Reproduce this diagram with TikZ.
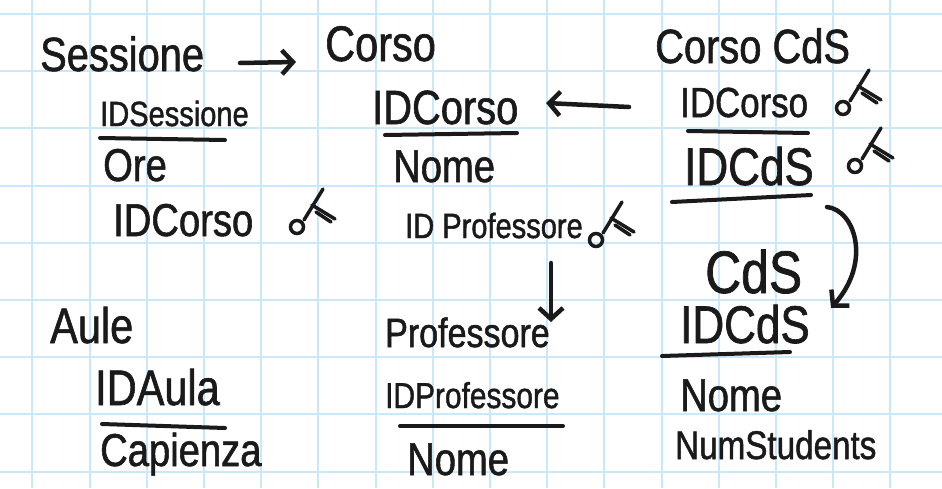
\documentclass[tikz,border=0pt]{standalone}
\usepackage{fontspec}
\setmainfont{Liberation Sans}[FakeStretch=0.83, FakeBold=1.2]
\usetikzlibrary{arrows.meta,calc}
\definecolor{gridblue}{RGB}{202,232,250}
\definecolor{ink}{RGB}{26,26,26}
\tikzset{
  hw/.style={anchor=base west, inner sep=0pt, text=ink, font=\fontsize{#1}{#1}\selectfont},
  hw/.default=46,
  ul/.style={draw=ink, line width=4pt, line cap=round},
  arr/.style={draw=ink, line width=4.5pt, line cap=round, line join=round,
    -{Straight Barb[length=11pt,width=24pt]}},
  gridline/.style={draw=gridblue, line width=2pt},
  keysym/.pic={
    \begin{scope}[draw=ink, line width=3.5pt, line cap=round]
      \draw (0,0) circle (6.5);
      \draw (7,-7) -- (26,-38);
      \draw (15,-22) -- (38,-8);
      \draw (19,-15) -- (34,-5);
    \end{scope}
  }
}
\begin{document}
\begin{tikzpicture}[x=1pt,y=-1pt]
\fill[white] (0,0) rectangle (942,488);
\useasboundingbox (0,0) rectangle (942,488);
% grid
\foreach \i in {0,...,15} \draw[gridline] ({32.3+57.2*\i},0) -- ({32.3+57.2*\i},488);
\foreach \j in {0,...,8} \draw[gridline] (0,{14+57.2*\j}) -- (942,{14+57.2*\j});

% Sessione
\node[hw=48] (sess) at (40,71) {Sessione};
\node[hw=35] (sessid) at (100,126) {IDSessione};
\node[hw] (sessore) at (103,181) {Ore};
\node[hw] (sesscorso) at (113,236) {IDCorso};
\pic at (297,227) {keysym};
\draw[ul] (100,138) -- (225,140);

% Corso
\node[hw=50] (corso) at (325,61) {Corso};
\node[hw=48] (corsoid) at (372,124) {IDCorso};
\node[hw] (corsonome) at (393,182) {Nome};
\node[hw=35] (corsoprof) at (405,238) {ID Professore};
\pic at (596,240) {keysym};
\draw[ul] (385,135) -- (517,133);

% Corso CdS
\node[hw=48] (ccds) at (655,63) {Corso CdS};
\node[hw=42] (ccdscorso) at (680,117) {IDCorso};
\node[hw=53] (ccdsid) at (684,185) {IDCdS};
\pic at (843,108) {keysym};
\pic at (855,166) {keysym};
\draw[ul] (688,131) -- (808,133);
\draw[ul] (672,202) -- (811,195);

% CdS
\node[hw=60] (cds) at (705,293) {CdS};
\node[hw=53] (cdsid) at (680,343) {IDCdS};
\node[hw] (cdsnome) at (680,411) {Nome};
\node[hw=40] (cdsnum) at (675,459) {NumStudents};
\draw[ul] (662,356) -- (790,352);

% Aule
\node[hw=50] (aule) at (50,343) {Aule};
\node[hw=50] (auleid) at (95,405) {IDAula};
\node[hw] (aulecap) at (100,466) {Capienza};
\draw[ul] (102,424) -- (225,428);

% Professore
\node[hw=41] (prof) at (385,347) {Professore};
\node[hw=36] (profid) at (385,408) {IDProfessore};
\node[hw] (profnome) at (407,475) {Nome};
\draw[ul] (400,426) -- (563,426);

% connectors
\coordinate (a1s) at (240,63);
\coordinate (a1e) at (296,62);
\draw[arr] (a1s) -- (a1e);
\coordinate (a2s) at (629,107);
\coordinate (a2e) at (546,103);
\draw[arr] (a2s) -- (a2e);
\coordinate (a3s) at (551,263);
\coordinate (a3e) at (551,322);
\draw[arr] (a3s) -- (a3e);
\coordinate (a4s) at (827,207);
\coordinate (a4e) at (831,308);
\draw[arr] (a4s) .. controls (855,210) and (872,262) .. (a4e);
\end{tikzpicture}
\end{document}
